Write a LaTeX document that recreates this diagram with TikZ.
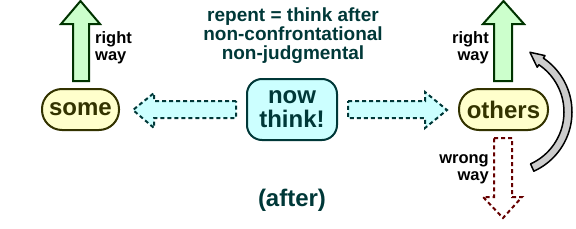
\documentclass[tikz,border=0pt]{standalone}
\usepackage{fontspec}
\setmainfont{Liberation Sans}
\definecolor{pillfill}{HTML}{FFFFCC}
\definecolor{pillline}{HTML}{333300}
\definecolor{thinkfill}{HTML}{CCFFFF}
\definecolor{tealline}{HTML}{003838}
\definecolor{rightfill}{HTML}{CCFFCC}
\definecolor{rightline}{HTML}{003300}
\definecolor{wrongline}{HTML}{660000}
\definecolor{curvefill}{HTML}{CCCCCC}
\tikzset{
    pill/.style={draw=pillline, fill=pillfill, line width=2pt, rounded corners=20pt,
        minimum height=41pt, inner sep=0pt, text=pillline,
        font=\fontsize{24}{24}\selectfont\bfseries},
    thinkbox/.style={draw=tealline, fill=thinkfill, line width=2pt, rounded corners=15pt,
        minimum width=90pt, minimum height=61pt, inner sep=0pt, align=center, text=tealline,
        font=\fontsize{24}{24}\selectfont\bfseries},
    lbl/.style={inner sep=0pt, font=\fontsize{16.5}{17}\selectfont\bfseries},
    rightarr/.style={draw=rightline, fill=rightfill, line width=2pt},
    dasharr/.style={draw=tealline, fill=thinkfill, line width=2pt, dash pattern=on 4pt off 3pt},
    wrongarr/.style={draw=wrongline, line width=2pt, dash pattern=on 4pt off 3pt},
    curvearr/.style={draw=black, fill=curvefill, line width=1.5pt, line join=round},
}
\begin{document}
\begin{tikzpicture}[x=1pt, y=-1pt]
    \useasboundingbox (0,0) rectangle (576,228);

    \node[pill, minimum width=77pt] (some) at (80.5,109.5) {some};
    \node[thinkbox] (think) at (292,109.5) {now\\think!};
    \node[pill, minimum width=89pt] (others) at (503.5,109.5) {others};

    \node[inner sep=0pt, align=center, text=tealline, font=\fontsize{19}{19}\selectfont\bfseries]
        (repent) at (293,36) {repent = think after\\non-confrontational\\non-judgmental};
    \node[inner sep=0pt, text=tealline, font=\fontsize{24}{24}\selectfont\bfseries]
        (after) at (292,200) {(after)};

    % right way up
    \draw[rightarr] (73,81) -- (73,24) -- (61,24) -- (80.5,1) -- (100,24) -- (89,24) -- (89,81) -- cycle;
    \draw[rightarr] (494,81) -- (494,24) -- (483,24) -- (503.5,1) -- (524,24) -- (512,24) -- (512,81) -- cycle;
    \node[lbl, align=left, anchor=west] (rwleft) at (95,48) {right\\way};
    \node[lbl, align=right, anchor=east] (rwright) at (489,48) {right\\way};

    % think arrows
    \draw[dasharr] (236,101) -- (154,101) -- (154,93) -- (133,110) -- (154,128) -- (154,118) -- (236,118) -- cycle;
    \draw[dasharr] (348,101) -- (425,101) -- (425,92) -- (447,110) -- (425,128) -- (425,118) -- (348,118) -- cycle;

    % wrong way down
    \draw[wrongarr] (494,138) -- (512,138) -- (512,197) -- (522,197) -- (503,218) -- (483,197) -- (494,197) -- cycle;
    \node[lbl, align=right, anchor=east] (wway) at (489,169) {wrong\\way};

    % back round
    \draw[curvearr] plot[domain=65.6:-56, samples=40] ({507+65*cos(\x)},{112+65*sin(\x)})
        -- ({507+68*cos(-56)},{112+68*sin(-56)}) -- ({507+64*cos(-69)},{112+64*sin(-69)})
        -- ({507+54*cos(-56)},{112+54*sin(-56)})
        -- plot[domain=-56:65.6, samples=40] ({507+57*cos(\x)},{112+57*sin(\x)}) -- cycle;

\end{tikzpicture}
\end{document}
